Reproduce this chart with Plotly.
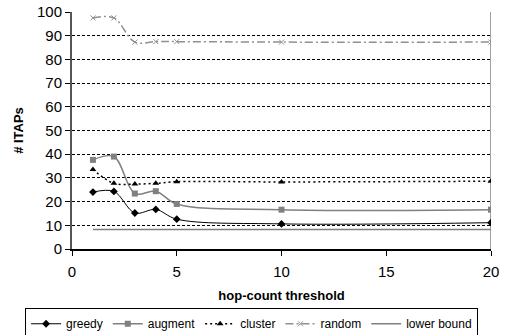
import plotly.graph_objects as go

x_vals = [1, 2, 3, 4, 5, 10, 20]
greedy = [24.0, 24.3, 15.2, 16.7, 12.6, 10.6, 11.1]
augment = [37.6, 39.0, 23.4, 24.4, 19.0, 16.6, 16.6]
cluster = [33.5, 27.7, 27.4, 27.7, 28.4, 28.3, 28.6]
random_ = [97.5, 97.5, 87.3, 87.5, 87.5, 87.3, 87.3]
lower_x = [1, 20]
lower_bound = [8.2, 8.2]

font = "Liberation Sans, Arial, sans-serif"

fig = go.Figure()
fig.add_trace(go.Scatter(x=x_vals, y=greedy, name="greedy", mode="lines+markers",
                         line=dict(color="black", width=1, shape="spline"),
                         marker=dict(symbol="diamond", size=6, color="black")))
fig.add_trace(go.Scatter(x=x_vals, y=augment, name="augment", mode="lines+markers",
                         line=dict(color="#808080", width=1.5, shape="spline"),
                         marker=dict(symbol="square", size=6, color="#808080")))
fig.add_trace(go.Scatter(x=x_vals, y=cluster, name="cluster", mode="lines+markers",
                         line=dict(color="black", width=1.5, dash="2px,3px", shape="spline"),
                         marker=dict(symbol="triangle-up", size=6, color="black")))
fig.add_trace(go.Scatter(x=x_vals, y=random_, name="random", mode="lines+markers",
                         line=dict(color="#909090", width=1.5, dash="8px,3px,2px,3px", shape="spline"),
                         marker=dict(symbol="x-thin-open", size=5, color="#909090",
                                     line=dict(color="#909090", width=1))))
fig.add_trace(go.Scatter(x=lower_x, y=lower_bound, name="lower bound", mode="lines",
                         line=dict(color="#808080", width=1.5)))

fig.update_layout(
    width=507, height=335,
    margin=dict(l=72, r=16, t=12, b=86, autoexpand=False),
    paper_bgcolor="white", plot_bgcolor="white",
    font=dict(family=font, size=15, color="black"),
    showlegend=True,
    legend=dict(orientation="h", x=-0.112, xanchor="left", y=-0.25, yanchor="top",
                bordercolor="black", borderwidth=1, font=dict(size=12),
                itemwidth=30, tracegroupgap=0),
    xaxis=dict(range=[0, 20], tickvals=[0, 5, 10, 15, 20], showgrid=False,
               showline=True, linecolor="black", linewidth=1.5,
               ticks="outside", ticklen=5, tickcolor="black",
               tickfont=dict(size=15), ticklabelstandoff=3,
               title=dict(text="<b>hop-count threshold</b>", font=dict(size=13), standoff=12),
               mirror=False, zeroline=False),
    yaxis=dict(range=[0, 100], dtick=10, showgrid=True, gridcolor="black", gridwidth=0.7,
               griddash="3px,2px",
               showline=True, linecolor="#555555", linewidth=2,
               ticks="outside", ticklen=5, tickcolor="black",
               tickfont=dict(size=15),
               title=dict(text="<b># ITAPs</b>", font=dict(size=13), standoff=10),
               zeroline=False),
)
fig.add_shape(type="line", xref="x", yref="y", x0=20, x1=20, y0=0, y1=100,
              line=dict(color="#808080", width=1.5), layer="below")

fig.write_html("out.html")
